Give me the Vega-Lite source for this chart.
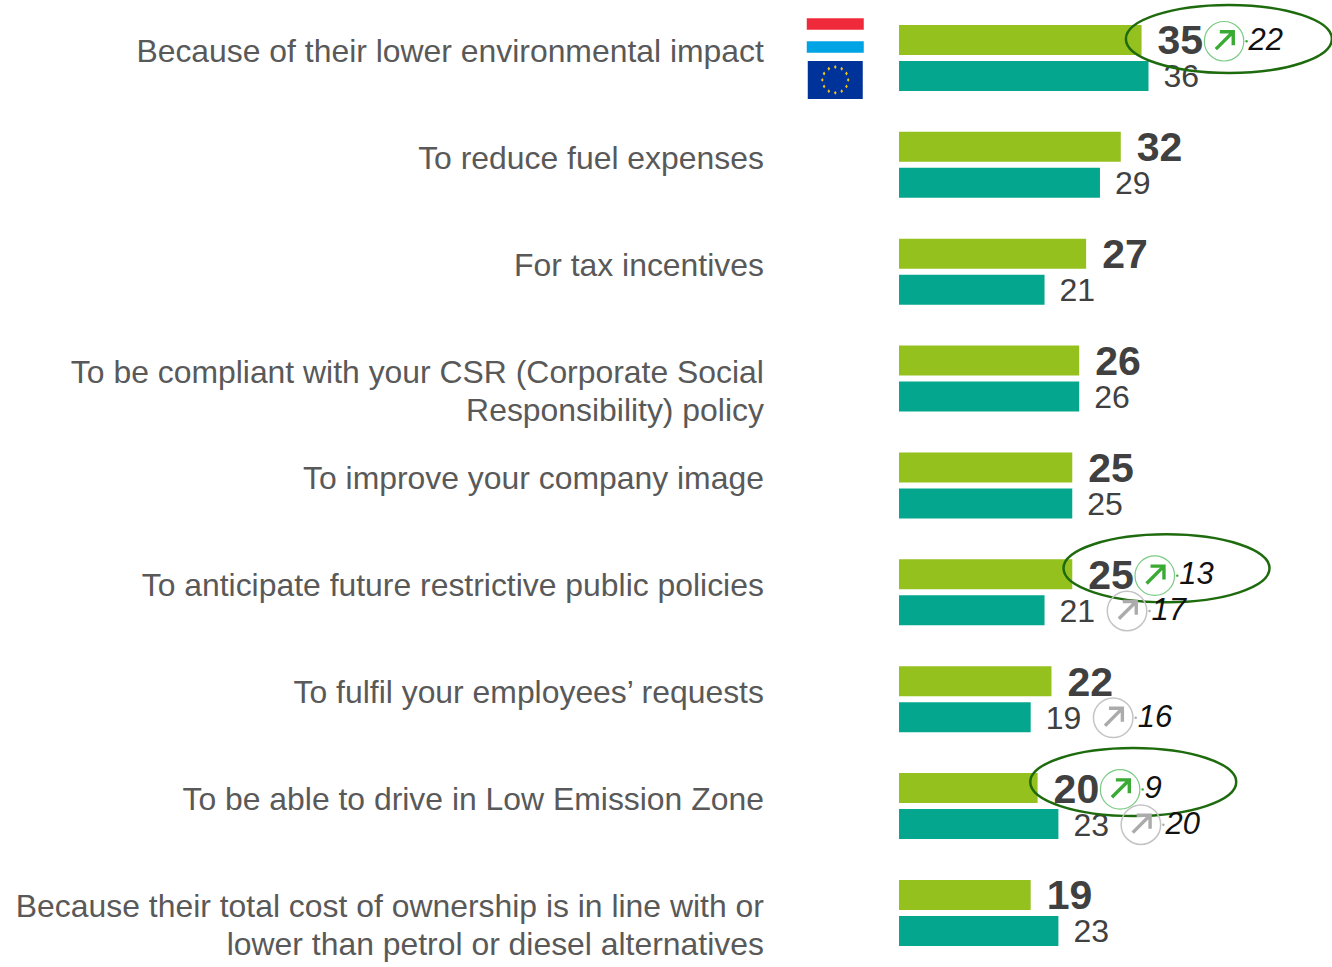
{"$schema":"https://vega.github.io/schema/vega-lite/v6.json","width":1332,"height":967,"padding":0,"autosize":"none","background":"white","view":{"stroke":null},"config":{"view":{"stroke":null},"text":{"font":"Liberation Sans"}},
"datasets":{"rows":[
{"c":"Because of their lower environmental impact","s":"LU","v":35,"t":22,"e":47.6},
{"c":"Because of their lower environmental impact","s":"EU","v":36},
{"c":"To reduce fuel expenses","s":"LU","v":32},
{"c":"To reduce fuel expenses","s":"EU","v":29},
{"c":"For tax incentives","s":"LU","v":27},
{"c":"For tax incentives","s":"EU","v":21},
{"c":"To be compliant with your CSR (Corporate Social\nResponsibility) policy","s":"LU","v":26},
{"c":"To be compliant with your CSR (Corporate Social\nResponsibility) policy","s":"EU","v":26},
{"c":"To improve your company image","s":"LU","v":25},
{"c":"To improve your company image","s":"EU","v":25},
{"c":"To anticipate future restrictive public policies","s":"LU","v":25,"t":13,"f":38.6},
{"c":"To anticipate future restrictive public policies","s":"EU","v":21,"t":17},
{"c":"To fulfil your employees’ requests","s":"LU","v":22},
{"c":"To fulfil your employees’ requests","s":"EU","v":19,"t":16},
{"c":"To be able to drive in Low Emission Zone","s":"LU","v":20,"t":9,"f":33.8},
{"c":"To be able to drive in Low Emission Zone","s":"EU","v":23,"t":20},
{"c":"Because their total cost of ownership is in line with or\nlower than petrol or diesel alternatives","s":"LU","v":19},
{"c":"Because their total cost of ownership is in line with or\nlower than petrol or diesel alternatives","s":"EU","v":23}
],"flags":[
{"c":"Because of their lower environmental impact","fx":-9.2}
]},
"data":{"name":"rows"},
"encoding":{
"y":{"field":"c","type":"nominal","axis":null,"sort":null,"scale":{"domain":["Because of their lower environmental impact","To reduce fuel expenses","For tax incentives","To be compliant with your CSR (Corporate Social\nResponsibility) policy","To improve your company image","To anticipate future restrictive public policies","To fulfil your employees’ requests","To be able to drive in Low Emission Zone","Because their total cost of ownership is in line with or\nlower than petrol or diesel alternatives"],"range":[4.5,966.4],"paddingInner":0,"paddingOuter":0}}
},
"layer":[
{"mark":{"type":"bar","orient":"horizontal"},
"encoding":{"x":{"field":"v","type":"quantitative","axis":null,"scale":{"domain":[-129.73,62.48],"nice":false,"zero":false}},
"yOffset":{"field":"s","type":"nominal","sort":["LU","EU"],"scale":{"domain":["LU","EU"],"paddingInner":0.167,"paddingOuter":0.568}},
"color":{"field":"s","type":"nominal","legend":null,"scale":{"domain":["LU","EU"],"range":["#95C11F","#04A78D"]}}}},
{"transform":[{"filter":"datum.s==='LU'"}],
"mark":{"type":"text","align":"right","baseline":"top","fontSize":31.9,"color":"#595959","lineBreak":"\n","lineHeight":38.5,"dy":-21},
"encoding":{"x":{"datum":-19.5,"type":"quantitative"},"text":{"field":"c"}}},
{"transform":[{"filter":"datum.s==='LU'"}],
"mark":{"type":"text","align":"left","baseline":"middle","fontSize":41,"fontWeight":"bold","color":"#404040","dx":16,"dy":2.5},
"encoding":{"x":{"field":"v","type":"quantitative"},"yOffset":{"field":"s","type":"nominal"},"text":{"field":"v"}}},
{"transform":[{"filter":"datum.s==='EU'"}],
"mark":{"type":"text","align":"left","baseline":"middle","fontSize":32,"color":"#404040","dx":15,"dy":1.5},
"encoding":{"x":{"field":"v","type":"quantitative"},"yOffset":{"field":"s","type":"nominal"},"text":{"field":"v"}}},
{"transform":[{"filter":"isValid(datum.e)"}],
"mark":{"type":"point","shape":"M-1,0A1,0.33,0,1,1,1,0A1,0.33,0,1,1,-1,0Z","size":42436,"filled":false,"stroke":"#1E6B0E","strokeWidth":2.5,"opacity":1,"yOffset":-19},
"encoding":{"x":{"field":"e","type":"quantitative"}}},
{"transform":[{"filter":"isValid(datum.f)"}],
"mark":{"type":"point","shape":"M-1,0A1,0.33,0,1,1,1,0A1,0.33,0,1,1,-1,0Z","size":42436,"filled":false,"stroke":"#1E6B0E","strokeWidth":2.5,"opacity":1,"yOffset":-24},
"encoding":{"x":{"field":"f","type":"quantitative"}}},
{"transform":[{"filter":"isValid(datum.t)&&datum.s==='LU'"}],
"mark":{"type":"point","shape":"circle","size":1560,"filled":false,"stroke":"#7CCB85","strokeWidth":1.2,"opacity":1,"xOffset":82.5,"yOffset":-16.7},
"encoding":{"x":{"field":"v","type":"quantitative"}}},
{"transform":[{"filter":"isValid(datum.t)&&datum.s==='EU'"}],
"mark":{"type":"point","shape":"circle","size":1560,"filled":false,"stroke":"#C4C4C4","strokeWidth":1.5,"opacity":1,"xOffset":82.5,"yOffset":18.6},
"encoding":{"x":{"field":"v","type":"quantitative"}}},
{"transform":[{"filter":"isValid(datum.t)&&datum.s==='LU'"}],
"mark":{"type":"point","shape":"M-0.55,0.55L0.5,-0.5M-0.3,-0.55L0.55,-0.55L0.55,0.3","size":1000,"filled":false,"stroke":"#3AAA35","strokeWidth":3.4,"opacity":1,"xOffset":83,"yOffset":-17.5},
"encoding":{"x":{"field":"v","type":"quantitative"}}},
{"transform":[{"filter":"isValid(datum.t)&&datum.s==='EU'"}],
"mark":{"type":"point","shape":"M-0.55,0.55L0.5,-0.5M-0.3,-0.55L0.55,-0.55L0.55,0.3","size":1000,"filled":false,"stroke":"#ABABAB","strokeWidth":3.4,"opacity":1,"xOffset":83,"yOffset":17.8},
"encoding":{"x":{"field":"v","type":"quantitative"}}},
{"transform":[{"filter":"isValid(datum.t)&&datum.s==='LU'"}],
"mark":{"type":"point","shape":"circle","size":6,"filled":true,"fill":"#3AAA35","opacity":1,"xOffset":105,"yOffset":-16.7},
"encoding":{"x":{"field":"v","type":"quantitative"}}},
{"transform":[{"filter":"isValid(datum.t)&&datum.s==='EU'"}],
"mark":{"type":"point","shape":"circle","size":6,"filled":true,"fill":"#ABABAB","opacity":1,"xOffset":105,"yOffset":18.6},
"encoding":{"x":{"field":"v","type":"quantitative"}}},
{"transform":[{"filter":"isValid(datum.t)"}],
"mark":{"type":"text","align":"left","baseline":"middle","fontSize":31,"fontStyle":"italic","color":"#111111","dx":107,"dy":1},
"encoding":{"x":{"field":"v","type":"quantitative"},"yOffset":{"field":"s","type":"nominal"},"text":{"field":"t"}}},
{"data":{"name":"flags"},
"mark":{"type":"point","shape":"M-1,-0.2H1V0.2H-1Z","size":3249,"filled":true,"fill":"#EF2B3B","opacity":1,"yOffset":-34},
"encoding":{"x":{"field":"fx","type":"quantitative"}}},
{"data":{"name":"flags"},
"mark":{"type":"point","shape":"M-1,-0.2H1V0.2H-1Z","size":3249,"filled":true,"fill":"#00A3E4","opacity":1,"yOffset":-11},
"encoding":{"x":{"field":"fx","type":"quantitative"}}},
{"data":{"name":"flags"},
"mark":{"type":"point","shape":"M-1,-0.69H1V0.69H-1Z","size":3025,"filled":true,"fill":"#003399","opacity":1,"yOffset":22},
"encoding":{"x":{"field":"fx","type":"quantitative"}}},
{"data":{"name":"flags"},
"mark":{"type":"point","shape":"M0,-0.54L0.05,-0.47L0,-0.4L-0.05,-0.47ZM0.235,-0.477L0.285,-0.407L0.235,-0.337L0.185,-0.407ZM0.407,-0.305L0.457,-0.235L0.407,-0.165L0.357,-0.235ZM0.47,-0.07L0.52,0L0.47,0.07L0.42,0ZM0.407,0.165L0.457,0.235L0.407,0.305L0.357,0.235ZM0.235,0.337L0.285,0.407L0.235,0.477L0.185,0.407ZM0,0.4L0.05,0.47L0,0.54L-0.05,0.47ZM-0.235,0.337L-0.185,0.407L-0.235,0.477L-0.285,0.407ZM-0.407,0.165L-0.357,0.235L-0.407,0.305L-0.457,0.235ZM-0.47,-0.07L-0.42,0L-0.47,0.07L-0.52,0ZM-0.407,-0.305L-0.357,-0.235L-0.407,-0.165L-0.457,-0.235ZM-0.235,-0.477L-0.185,-0.407L-0.235,-0.337L-0.285,-0.407Z","size":3025,"filled":true,"fill":"#F2C318","opacity":1,"yOffset":22},
"encoding":{"x":{"field":"fx","type":"quantitative"}}}
]}
